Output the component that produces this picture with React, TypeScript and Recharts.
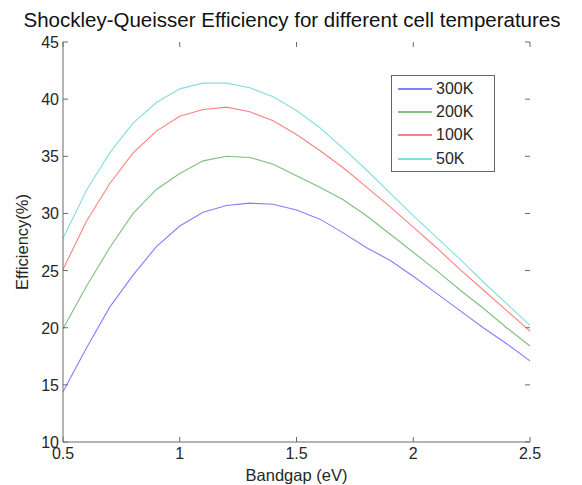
import { LineChart, Line, XAxis, YAxis, Legend } from "recharts";

const bandgap = [
  0.5, 0.6, 0.7, 0.8, 0.9, 1.0, 1.1, 1.2, 1.3, 1.4, 1.5, 1.6, 1.7, 1.8, 1.9,
  2.0, 2.1, 2.2, 2.3, 2.4, 2.5,
];
const eff300K = [
  14.4, 18.2, 21.8, 24.6, 27.1, 28.9, 30.1, 30.7, 30.9, 30.8, 30.3, 29.5, 28.3,
  27.0, 25.9, 24.5, 23.0, 21.5, 20.0, 18.6, 17.1,
];
const eff200K = [
  19.9, 23.6, 27.0, 30.0, 32.1, 33.5, 34.6, 35.0, 34.9, 34.3, 33.3, 32.3, 31.2,
  29.8, 28.2, 26.6, 25.0, 23.3, 21.7, 20.0, 18.4,
];
const eff100K = [
  25.1, 29.3, 32.6, 35.3, 37.2, 38.5, 39.1, 39.3, 38.9, 38.1, 36.9, 35.5, 34.0,
  32.3, 30.6, 28.8, 27.0, 25.1, 23.3, 21.5, 19.7,
];
const eff50K = [
  27.8, 32.0, 35.3, 37.9, 39.7, 40.9, 41.4, 41.4, 41.0, 40.2, 39.0, 37.5, 35.7,
  33.8, 31.8, 29.8, 27.9, 26.0, 24.0, 22.1, 20.2,
];

const xTicks = [0.5, 1, 1.5, 2, 2.5];
const yTicks = [10, 15, 20, 25, 30, 35, 40, 45];

const series = [
  { key: "300K", color: "#8080ff" },
  { key: "200K", color: "#80bf80" },
  { key: "100K", color: "#ff8080" },
  { key: "50K", color: "#80dfdf" },
];

const data = bandgap.map((b, i) => ({
  bandgap: b,
  "300K": eff300K[i],
  "200K": eff200K[i],
  "100K": eff100K[i],
  "50K": eff50K[i],
}));

const FONT = "'Liberation Sans', Arial, sans-serif";
const AXIS = "#6a6a6a";
const TEXT = "#262626";
const PLOT_W = 467;
const PLOT_H = 400;

const XTick = (props: any) => {
  const { x, y, payload } = props;
  return (
    <g>
      <line x1={x} x2={x} y1={y} y2={y - 5} stroke={AXIS} />
      <line x1={x} x2={x} y1={y - PLOT_H} y2={y - PLOT_H + 5} stroke={AXIS} />
      <text x={x} y={y + 17} textAnchor="middle" fontSize={16} fill={TEXT} fontFamily={FONT}>
        {String(payload.value)}
      </text>
    </g>
  );
};

const YTick = (props: any) => {
  const { x, y, payload } = props;
  return (
    <g>
      <line x1={x} x2={x + 5} y1={y} y2={y} stroke={AXIS} />
      <line x1={x + PLOT_W - 5} x2={x + PLOT_W} y1={y} y2={y} stroke={AXIS} />
      <text x={x - 4} y={y + 6} textAnchor="end" fontSize={16} fill={TEXT} fontFamily={FONT}>
        {String(payload.value)}
      </text>
    </g>
  );
};

const renderLegend = () => (
  <div
    style={{
      border: "1px solid #666",
      background: "#fff",
      padding: "1px 0",
      width: 102,
      fontFamily: FONT,
      fontSize: 16,
      color: TEXT,
    }}
  >
    {series.map((s) => (
      <div key={s.key} style={{ display: "flex", alignItems: "center", height: 23.3 }}>
        <div style={{ marginLeft: 6, width: 34, height: 2, background: s.color }} />
        <span style={{ marginLeft: 4 }}>{s.key}</span>
      </div>
    ))}
  </div>
);

export default function App() {
  return (
    <div
      style={{
        position: "absolute",
        left: 0,
        top: 0,
        width: 582,
        height: 485,
        background: "#fff",
        fontFamily: FONT,
      }}
    >
      <div
        style={{
          position: "absolute",
          left: 0,
          top: 8,
          width: 584,
          textAlign: "center",
          fontSize: 20.5,
          color: "#111",
          lineHeight: "24px",
          whiteSpace: "nowrap",
        }}
      >
        Shockley-Queisser Efficiency for different cell temperatures
      </div>
      <LineChart
        width={582}
        height={485}
        data={data}
        margin={{ top: 42, right: 52, bottom: 0, left: 0 }}
      >
        <XAxis
          dataKey="bandgap"
          type="number"
          domain={[0.5, 2.5]}
          ticks={xTicks}
          height={43}
          tickSize={0}
          tickMargin={0}
          tickLine={false}
          axisLine={{ stroke: AXIS }}
          tick={XTick}
          interval={0}
          label={{
            value: "Bandgap (eV)",
            position: "insideBottom",
            offset: 4,
            fill: TEXT,
            fontSize: 16.5,
            fontFamily: FONT,
          }}
        />
        <XAxis
          xAxisId="top"
          orientation="top"
          type="number"
          domain={[0.5, 2.5]}
          height={0}
          tick={false}
          tickLine={false}
          axisLine={{ stroke: AXIS }}
        />
        <YAxis
          type="number"
          domain={[10, 45]}
          ticks={yTicks}
          width={63}
          tickSize={0}
          tickMargin={0}
          tickLine={false}
          axisLine={{ stroke: AXIS }}
          tick={YTick}
          interval={0}
          label={{
            value: "Efficiency(%)",
            angle: -90,
            position: "insideLeft",
            offset: 22,
            fill: TEXT,
            fontSize: 16.5,
            fontFamily: FONT,
            style: { textAnchor: "middle" },
          }}
        />
        <YAxis
          yAxisId="right"
          orientation="right"
          type="number"
          domain={[10, 45]}
          width={0}
          tick={false}
          tickLine={false}
          axisLine={{ stroke: AXIS }}
        />
        <Legend
          layout="vertical"
          align="center"
          verticalAlign="middle"
          content={renderLegend}
          wrapperStyle={{ position: "absolute", left: 391, top: 75, width: 104 }}
        />
        {series.map((s) => (
          <Line
            key={s.key}
            type="linear"
            dataKey={s.key}
            stroke={s.color}
            strokeWidth={1.1}
            dot={false}
            isAnimationActive={false}
          />
        ))}
      </LineChart>
    </div>
  );
}
